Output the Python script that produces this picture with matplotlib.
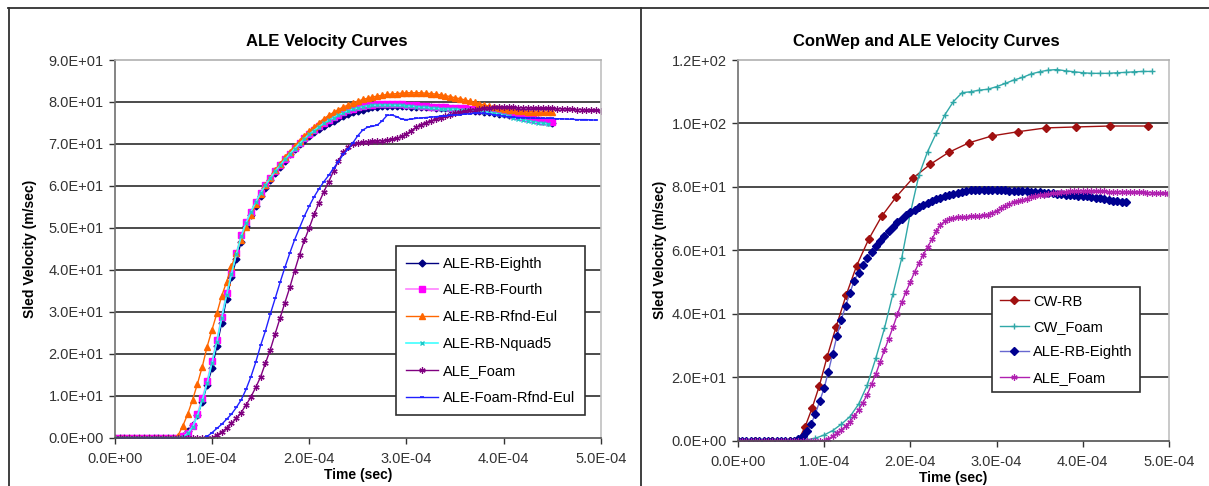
import numpy as np
import matplotlib.pyplot as plt
from matplotlib.lines import Line2D

plt.rcParams['font.family'] = ['Liberation Sans', 'DejaVu Sans']

# --------------------
# Data read off the chart (velocity in m/sec, sampled every 5E-06 sec)
# --------------------
ale_rb_eighth = [0.0] * 14 + [
    0.5, 1.6, 3.0, 5.3, 8.5, 12.6, 16.5, 21.8, 27.4, 33.1,
    38.2, 42.5, 46.6, 50.5, 53.0, 55.3, 57.6, 59.6, 61.4, 63.0,
    64.6, 66.0, 67.5, 68.8, 70.0, 71.0, 72.0, 72.8, 73.6, 74.3,
    74.9, 75.5, 76.1, 76.6, 77.1, 77.5, 77.9, 78.2, 78.5, 78.7,
    78.9, 79.0, 79.1, 79.1, 79.1, 79.0, 79.0, 78.9, 78.9, 78.8,
    78.8, 78.7, 78.6, 78.6, 78.5, 78.4, 78.3, 78.2, 78.1, 78.0,
    77.9, 77.8, 77.6, 77.5, 77.4, 77.2, 77.1, 77.0, 76.8, 76.6,
    76.4, 76.2, 76.0, 75.7, 75.5, 75.3, 75.1]

ale_rb_fourth = [0.0] * 14 + [
    0.3, 1.2, 2.8, 5.7, 9.4, 13.5, 18.3, 23.3, 28.8, 34.4,
    39.3, 43.9, 48.2, 51.3, 53.9, 56.2, 58.4, 60.3, 62.0, 63.6,
    65.0, 66.4, 67.7, 69.0, 70.2, 71.3, 72.4, 73.3, 74.2, 75.0,
    75.7, 76.4, 77.0, 77.5, 78.0, 78.4, 78.7, 79.0, 79.2, 79.4,
    79.5, 79.6, 79.6, 79.6, 79.5, 79.5, 79.4, 79.3, 79.2, 79.1,
    79.0, 78.9, 78.8, 78.7, 78.7, 78.6, 78.6, 78.5, 78.5, 78.4,
    78.3, 78.2, 78.1, 78.0, 77.8, 77.6, 77.4, 77.2, 76.9, 76.6,
    76.4, 76.1, 75.9, 75.7, 75.5, 75.4, 75.3]

ale_rb_rfnd_eul = [0.0] * 13 + [
    0.5, 2.8, 5.6, 9.0, 12.8, 16.9, 21.7, 25.7, 29.6, 33.8,
    37.1, 40.8, 44.0, 47.2, 50.2, 53.0, 55.6, 58.0, 60.2, 62.0,
    63.7, 65.3, 66.8, 68.2, 69.5, 70.8, 72.0, 73.1, 74.1, 75.1,
    76.0, 76.8, 77.5, 78.2, 78.8, 79.3, 79.8, 80.2, 80.6, 80.9,
    81.2, 81.4, 81.6, 81.8, 81.9, 82.0, 82.1, 82.2, 82.2, 82.2,
    82.2, 82.1, 82.0, 81.9, 81.7, 81.5, 81.3, 81.0, 80.8, 80.5,
    80.2, 79.9, 79.6, 79.3, 79.0, 78.8, 78.5, 78.3, 78.1, 78.0,
    77.9, 77.8, 77.7, 77.7, 77.6, 77.6, 77.6, 77.6]

ale_rb_nquad5 = [0.0] * 14 + [
    0.2, 1.0, 2.5, 5.2, 8.9, 13.0, 17.8, 22.9, 28.5, 34.0,
    39.0, 43.7, 48.0, 51.2, 53.8, 56.1, 58.3, 60.2, 61.9, 63.5,
    64.9, 66.3, 67.6, 68.9, 70.1, 71.2, 72.3, 73.2, 74.1, 74.9,
    75.6, 76.3, 76.9, 77.4, 77.9, 78.3, 78.6, 78.9, 79.1, 79.2,
    79.3, 79.3, 79.3, 79.3, 79.2, 79.2, 79.1, 79.0, 78.9, 78.8,
    78.7, 78.6, 78.5, 78.4, 78.4, 78.3, 78.3, 78.2, 78.1, 78.0,
    77.9, 77.8, 77.7, 77.5, 77.3, 77.1, 76.8, 76.6, 76.3, 76.0,
    75.8, 75.5, 75.3, 75.1, 74.9, 74.8]

ale_foam = [0.0] * 21 + [
    0.6, 1.4, 2.3, 3.4, 4.6, 6.0, 7.8, 9.7, 12.0, 14.5,
    17.8, 21.0, 24.8, 28.5, 32.2, 35.8, 39.8, 43.6, 47.0, 50.0,
    53.2, 56.0, 58.6, 61.0, 63.5, 66.0, 68.0, 69.2, 69.9, 70.2,
    70.4, 70.5, 70.6, 70.7, 70.8, 70.9, 71.1, 71.3, 71.8, 72.4,
    73.2, 74.0, 74.6, 75.1, 75.5, 75.9, 76.3, 76.7, 77.0, 77.3,
    77.6, 77.8, 78.0, 78.2, 78.3, 78.5, 78.6, 78.7, 78.7, 78.7,
    78.7, 78.7, 78.6, 78.6, 78.6, 78.5, 78.5, 78.5, 78.5, 78.5,
    78.4, 78.4, 78.3, 78.3, 78.2, 78.2, 78.1, 78.0, 78.0, 77.9]

ale_foam_rfnd_eul = [0.0] * 16 + [
    -0.2, -0.5, -0.3, 0.3, 1.2, 2.2, 3.2, 4.4, 5.6, 7.2,
    9.0, 11.5, 14.5, 18.0, 22.0, 25.5, 29.5, 33.2, 37.0, 40.6,
    44.0, 47.2, 50.0, 52.8, 55.2, 57.4, 59.3, 61.0, 62.5, 64.2,
    65.8, 67.5, 68.8, 70.3, 72.0, 73.3, 74.0, 74.2, 74.5, 75.5,
    76.8, 76.9, 76.5, 75.9, 75.8, 75.9, 76.1, 76.2, 76.3, 76.4,
    76.5, 76.6, 76.7, 76.8, 76.9, 77.0, 77.1, 77.2, 77.3, 77.3,
    77.3, 77.2, 77.0, 76.8, 76.6, 76.5, 76.4, 76.3, 76.3, 76.2,
    76.2, 76.1, 76.1, 76.1, 76.1, 76.0, 76.0, 75.9, 75.9, 75.8,
    75.8, 75.8, 75.7, 75.7]

# ConWep curves have their own output times
cw_rb_time = [0.0, 2.0e-5, 4.0e-5, 6.0e-5, 7.0e-5, 7.8e-5, 8.6e-5, 9.45e-5, 1.036e-4, 1.139e-4,
              1.256e-4, 1.378e-4, 1.517e-4, 1.667e-4, 1.838e-4, 2.027e-4, 2.23e-4,
              2.446e-4, 2.68e-4, 2.95e-4, 3.25e-4, 3.57e-4, 3.92e-4, 4.32e-4, 4.76e-4]
cw_rb = [0.0, 0.0, 0.0, 0.0, 0.0, 4.4, 10.2, 17.3, 26.5, 35.9,
         45.9, 55.2, 63.5, 70.7, 76.9, 82.7, 87.1,
         90.9, 93.9, 96.1, 97.4, 98.6, 98.9, 99.2, 99.2]

cw_foam = [0.0] * 8 + [
    0.3, 0.8, 1.8, 3.2, 5.2, 7.6, 11.5, 17.5, 26.0, 35.4,
    46.4, 57.5, 71.7, 83.7, 91.1, 96.9, 102.7, 106.9, 109.7, 110.0,
    110.5, 110.8, 111.6, 112.6, 113.7, 114.5, 115.6, 116.3, 116.8, 117.0,
    116.6, 116.3, 116.0, 115.8, 115.8, 115.8, 116.0, 116.1, 116.3, 116.4,
    116.4]

DT = 5e-6
def times(vals, step=DT):
    return np.arange(len(vals)) * step

XTicks = [0, 1e-4, 2e-4, 3e-4, 4e-4, 5e-4]
XTickLabels = ['0.0E+00', '1.0E-04', '2.0E-04', '3.0E-04', '4.0E-04', '5.0E-04']
YTicksL = [0, 10, 20, 30, 40, 50, 60, 70, 80, 90]
YTickLabelsL = ['0.0E+00', '1.0E+01', '2.0E+01', '3.0E+01', '4.0E+01', '5.0E+01',
                '6.0E+01', '7.0E+01', '8.0E+01', '9.0E+01']
YTicksR = [0, 20, 40, 60, 80, 100, 120]
YTickLabelsR = ['0.0E+00', '2.0E+01', '4.0E+01', '6.0E+01', '8.0E+01', '1.0E+02', '1.2E+02']

fig = plt.figure(figsize=(12.09, 4.86), dpi=100)
fig.patch.set_facecolor('white')

# outer frame of the two-cell table
W, H = 1209.0, 486.0
for (x0, y0, x1, y1) in [(8, 8.5, 1209, 8.5), (9, 8, 9, 486), (641, 8, 641, 486)]:
    fig.add_artist(Line2D([x0 / W, x1 / W], [1 - y0 / H, 1 - y1 / H], color='#303030', lw=1.3))

def style_axes(ax, yticks, ylabels, ymax, ylabelpad):
    ax.set_xlim(0, 5e-4)
    ax.set_ylim(0, ymax)
    ax.set_xticks(XTicks)
    ax.set_xticklabels(XTickLabels)
    ax.set_yticks(yticks)
    ax.set_yticklabels(ylabels)
    ax.tick_params(labelsize=10.5, colors='#333333', length=4, width=1, direction='out')
    ax.tick_params(axis='x', pad=6)
    ax.tick_params(axis='y', pad=4)
    for yv in yticks[1:-1]:
        ax.axhline(yv, color='#1a1a1a', lw=1.1, zorder=0.5)
    ax.spines['left'].set_color('#707070')
    ax.spines['bottom'].set_color('#505050')
    ax.spines['top'].set_color('#b0b0b0')
    ax.spines['right'].set_color('#c0c0c0')
    for s in ax.spines.values():
        s.set_linewidth(1.2)
    ax.set_xlabel('Time (sec)', fontsize=10, fontweight='bold', labelpad=2)
    ax.set_ylabel('Sled Velocity (m/sec)', fontsize=10, fontweight='bold', labelpad=ylabelpad)

# --------------------
# Left: ALE Velocity Curves
# --------------------
ax1 = fig.add_axes([0.0949, 0.0994, 0.4022, 0.7771])
ax1.plot(times(ale_rb_eighth), ale_rb_eighth, color='#000080', marker='D', ms=3.5, lw=1, label='ALE-RB-Eighth')
ax1.plot(times(ale_rb_fourth), ale_rb_fourth, color='#ff80ff', marker='s', ms=4.5, mfc='#ff00ff', mec='#ff00ff', lw=1.2, label='ALE-RB-Fourth')
ax1.plot(times(ale_rb_rfnd_eul), ale_rb_rfnd_eul, color='#ff6600', marker='^', ms=5, lw=1, label='ALE-RB-Rfnd-Eul')
ax1.plot(times(ale_rb_nquad5), ale_rb_nquad5, color='#40ffff', marker='x', ms=3.5, mew=1, mec='#20c8c8', lw=1.2, label='ALE-RB-Nquad5')
ax1.plot(times(ale_foam), ale_foam, color='#800080', marker=(6, 2, 0), ms=4.5, mew=0.9, lw=1, label='ALE_Foam')
ax1.plot(times(ale_foam_rfnd_eul), ale_foam_rfnd_eul, color='#2020ff', marker='_', ms=3, mew=1.2, lw=1, label='ALE-Foam-Rfnd-Eul')
style_axes(ax1, YTicksL, YTickLabelsL, 90, 8)
ax1.set_title('ALE Velocity Curves', fontsize=12, fontweight='bold', x=0.437, pad=10)
leg1 = ax1.legend(loc='lower right', bbox_to_anchor=(0.967, 0.06), borderaxespad=0, fontsize=10.5,
                  frameon=True, fancybox=False, edgecolor='#303030', framealpha=1, handlelength=2.2,
                  labelspacing=0.88, borderpad=0.7, handletextpad=0.3)
leg1.get_frame().set_linewidth(1.2)

# --------------------
# Right: ConWep and ALE Velocity Curves
# --------------------
ax2 = fig.add_axes([0.6103, 0.0932, 0.3566, 0.7833])
ax2.plot(cw_rb_time, cw_rb, color='#a01010', marker='D', ms=4.5, lw=1, label='CW-RB')
ax2.plot(times(cw_foam, 1e-5), cw_foam, color='#30a8a8', marker='+', ms=5, mew=1, lw=1, label='CW_Foam')
ax2.plot(times(ale_rb_eighth), ale_rb_eighth, color='#6868d0', marker='D', ms=4, mfc='#000090', mec='#000090', lw=1, label='ALE-RB-Eighth')
ax2.plot(times(ale_foam), ale_foam, color='#b020b0', marker=(6, 2, 0), ms=4.5, mew=0.9, lw=1, label='ALE_Foam')
style_axes(ax2, YTicksR, YTickLabelsR, 120, 3)
ax2.set_title('ConWep and ALE Velocity Curves', fontsize=12, fontweight='bold', x=0.4375, pad=10)
leg2 = ax2.legend(loc='lower right', bbox_to_anchor=(0.933, 0.128), borderaxespad=0, fontsize=10.5,
                  frameon=True, fancybox=False, edgecolor='#303030', framealpha=1, handlelength=2.0,
                  labelspacing=0.78, borderpad=0.5, handletextpad=0.3)
leg2.get_frame().set_linewidth(1.2)

fig.savefig('out.png', dpi=100)
